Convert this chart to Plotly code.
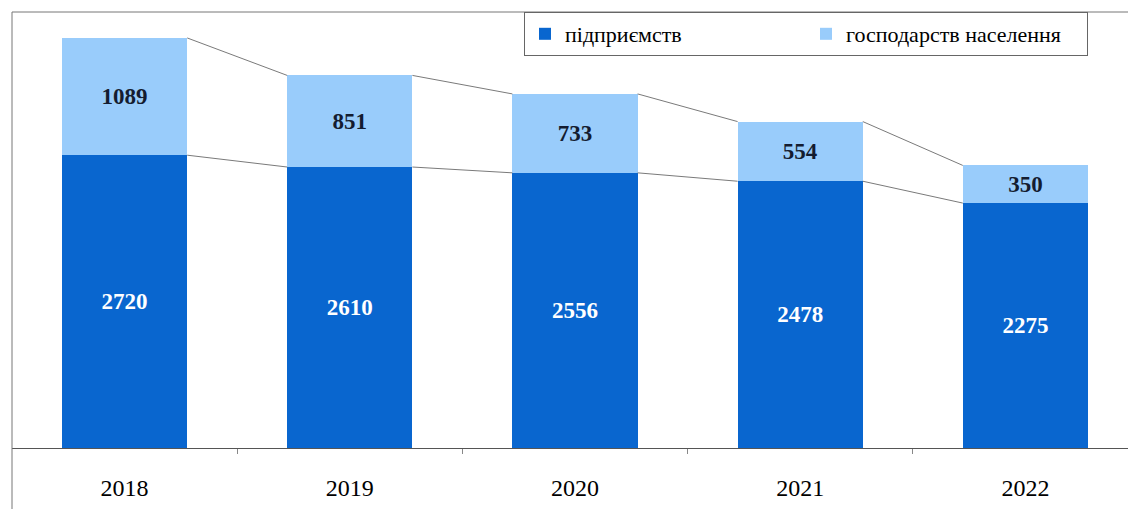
import plotly.graph_objects as go

years = ["2018", "2019", "2020", "2021", "2022"]
enterprises = [2720, 2610, 2556, 2478, 2275]
households = [1089, 851, 733, 554, 350]
series_names = ["підприємств", "господарств населення"]

DARK = "#0966CF"
LIGHT = "#99CCFB"
FONT = "Liberation Serif"
BAR_W = 0.556


def serif(s):
    return f"<span style='font-family:Liberation Serif'>{s}</span>"


x = list(range(len(years)))
fig = go.Figure()
fig.add_bar(x=x, y=enterprises, name=serif(series_names[0]), marker=dict(color=DARK, line=dict(width=0)),
            width=BAR_W, text=[f"<b>{v}</b>" for v in enterprises], textposition="inside",
            insidetextanchor="middle",
            textfont=dict(family=FONT, size=23, color="white"))
fig.add_bar(x=x, y=households, name=serif(series_names[1]), marker=dict(color=LIGHT, line=dict(width=0)),
            width=BAR_W, text=[f"<b>{v}</b>" for v in households], textposition="inside",
            insidetextanchor="middle",
            textfont=dict(family=FONT, size=23, color="#141c30"))

# connector lines between consecutive bars
totals = [a + b for a, b in zip(enterprises, households)]
for i in range(len(years) - 1):
    xs = [i + BAR_W / 2, i + 1 - BAR_W / 2]
    for seq in (enterprises, totals):
        fig.add_scatter(x=xs, y=[seq[i], seq[i + 1]], mode="lines",
                        line=dict(color="#7a7a7a", width=1), showlegend=False,
                        hoverinfo="skip")

# page body has an 8px default margin, so offsets are reduced by 8
L, T, R, B = 4, 4, 6, 69
PW = 1136 - L - R

fig.update_layout(
    barmode="stack",
    width=1136, height=509,
    margin=dict(l=L, r=R, t=T, b=B, autoexpand=False),
    plot_bgcolor="white", paper_bgcolor="white",
    legend=dict(orientation="h", x=(1080 - L) / PW, xanchor="right", y=1.0, yanchor="top",
                bordercolor="#666666", borderwidth=1, bgcolor="white",
                font=dict(family=FONT, size=22, color="black"),
                traceorder="normal", itemwidth=30, entrywidth=236),
    xaxis=dict(range=[-0.5, 4.5], tickmode="array", tickvals=x,
               ticktext=[serif(y) for y in years],
               showline=True, linecolor="#555555", linewidth=1, ticks="",
               showgrid=False, zeroline=False, automargin=False,
               tickfont=dict(family=FONT, size=24, color="black"),
               ticklabelstandoff=18,
               minor=dict(tickmode="array", tickvals=[0.5, 1.5, 2.5, 3.5], ticks="outside",
                          ticklen=5, tickcolor="#888888", showgrid=False)),
    yaxis=dict(range=[0, 4050], showticklabels=False, showgrid=False, zeroline=False,
               showline=False, ticks="", automargin=False),
    shapes=[
        dict(type="line", xref="paper", yref="paper", x0=0, x1=1, y0=1, y1=1,
             line=dict(color="#777777", width=1)),
        dict(type="line", xref="paper", yref="paper", x0=0, x1=0, y0=-0.2, y1=1,
             line=dict(color="#777777", width=1)),
    ],
)

fig.write_html("out.html")
